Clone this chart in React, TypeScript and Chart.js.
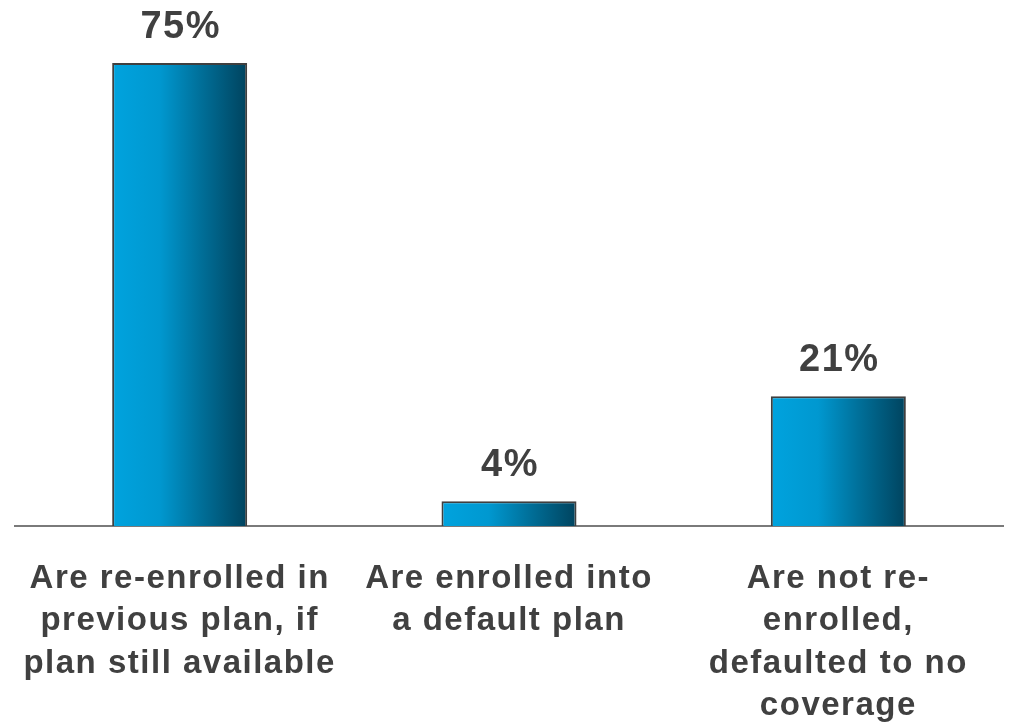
import React, { useEffect, useRef } from "react";
import { Chart, registerables } from "chart.js";

Chart.register(...registerables);

const categories: string[][] = [
  ["Are re-enrolled in", "previous plan, if", "plan still available"],
  ["Are enrolled into", "a default plan"],
  ["Are not re-", "enrolled,", "defaulted to no", "coverage"],
];
const values: number[] = [75, 4, 21];
const valueLabels: string[] = ["75%", "4%", "21%"];

const FONT = '"Liberation Sans", Arial, Helvetica, sans-serif';
const TEXT_COLOR = "#404040";

export default function App() {
  const ref = useRef<HTMLCanvasElement | null>(null);

  useEffect(() => {
    document.body.style.margin = "0";
    const canvas = ref.current;
    if (!canvas) return;

    const spacingPlugin = {
      id: "spacing",
      beforeDraw(chart: any) {
        try {
          chart.ctx.letterSpacing = "1.5px";
        } catch (e) {}
      },
    };

    const valuePlugin = {
      id: "valueLabels",
      afterDatasetsDraw(chart: any) {
        const ctx = chart.ctx;
        const meta = chart.getDatasetMeta(0);
        ctx.save();
        try {
          ctx.letterSpacing = "1.5px";
        } catch (e) {}
        ctx.font = `bold 38px ${FONT}`;
        ctx.fillStyle = TEXT_COLOR;
        ctx.textAlign = "center";
        ctx.textBaseline = "alphabetic";
        meta.data.forEach((bar: any, i: number) => {
          ctx.fillText(valueLabels[i], bar.x + 1, bar.y - 25);
        });
        ctx.restore();
      },
    };

    const chart = new Chart(canvas, {
      type: "bar",
      data: {
        labels: categories,
        datasets: [
          {
            data: values,
            backgroundColor: (c: any) => {
              const ch = c.chart;
              const xs = ch.scales && ch.scales.x;
              if (!ch.chartArea || !xs || c.dataIndex === undefined) return "#0090c8";
              const cx = xs.getPixelForValue(c.dataIndex);
              const half = (xs.width / categories.length) * 0.41 / 2;
              const g = ch.ctx.createLinearGradient(cx - half, 0, cx + half, 0);
              g.addColorStop(0, "#00a3de");
              g.addColorStop(0.35, "#0098d0");
              g.addColorStop(0.65, "#00709a");
              g.addColorStop(1, "#00435e");
              return g;
            },
            borderColor: "#3f3f3f",
            borderWidth: 2,
            barPercentage: 0.41,
            categoryPercentage: 1,
          },
        ],
      },
      options: {
        animation: false,
        responsive: false,
        maintainAspectRatio: false,
        layout: { padding: { left: 15, right: 6, top: 32, bottom: 0 } },
        plugins: {
          legend: { display: false },
          tooltip: { enabled: false },
        },
        scales: {
          x: {
            grid: { display: false },
            border: { display: true, color: "#7a7a7a", width: 2 },
            ticks: {
              autoSkip: false,
              maxRotation: 0,
              minRotation: 0,
              padding: 24,
              color: TEXT_COLOR,
              font: { family: FONT, size: 33, weight: "bold", lineHeight: 1.28 },
            },
            afterFit: (scale: any) => {
              scale.height = 197;
            },
          },
          y: {
            display: false,
            min: 0,
            max: 80,
          },
        },
      },
      plugins: [spacingPlugin, valuePlugin],
    });

    return () => chart.destroy();
  }, []);

  return (
    <div style={{ width: 1009, height: 723, background: "#ffffff" }}>
      <canvas ref={ref} width={1009} height={723} style={{ display: "block" }} />
    </div>
  );
}
